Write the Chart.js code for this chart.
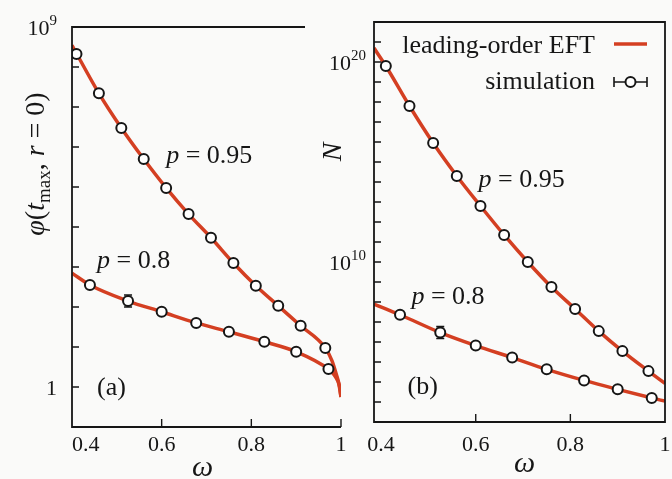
<!DOCTYPE html>
<html>
<head>
<meta charset="utf-8">
<script src="https://cdn.jsdelivr.net/npm/chart.js@4/dist/chart.umd.min.js"></script>
<style>
html, body { margin: 0; padding: 0; background: #fafaf9; }
#wrap { position: relative; width: 672px; height: 479px; }
canvas { position: absolute; left: 0; top: 0; }
.preload { position: absolute; left: -999px; top: 0; font-family: "Liberation Serif"; }
</style>
</head>
<body>
<span class="preload">leading-order <i>p</i></span>
<div id="wrap">
<canvas id="chartA" width="672" height="479"></canvas>
<canvas id="chartB" width="672" height="479"></canvas>
</div>
<script>

// ---- values ----

// simulation points (same omega for both panels)
const simOmega95 = [0.41, 0.46, 0.51, 0.56, 0.61, 0.66, 0.71, 0.76, 0.81, 0.86, 0.91, 0.965];
const simOmega08 = [0.44, 0.525, 0.6, 0.677, 0.75, 0.829, 0.9, 0.972];

// panel (a): phi(t_max, r=0)
const simPhi95 = [2.1e8, 2.2e7, 3.0e6, 5.0e5, 9.5e4, 2.1e4, 5.4e3, 1.26e3, 340, 107, 34, 9.5];
const simPhi08 = [355, 141, 76, 40, 24, 13.5, 7.6, 2.8];
const errPhi08 = [null, [100, 199], null, null, null, null, null, null];

const eftOmega95a = [0.4, 0.46, 0.51, 0.56, 0.61, 0.66, 0.71, 0.76, 0.81, 0.86, 0.91, 0.965, 0.98, 0.99, 0.995, 1.0];
const eftPhi95 = [3.5e8, 2.2e7, 3.0e6, 5.0e5, 9.5e4, 2.1e4, 5.4e3, 1.26e3, 340, 107, 34, 9.5, 4.5, 2.0, 1.25, 0.56];
const eftOmega08a = [0.4, 0.44, 0.525, 0.6, 0.677, 0.75, 0.829, 0.9, 0.972, 0.985, 0.993, 0.997, 1.0];
const eftPhi08 = [700, 355, 141, 76, 40, 24, 13.5, 7.6, 2.8, 2.0, 1.4, 1.0, 0.56];

// panel (b): N
const simN95 = [6.3e19, 6.3e17, 8.9e15, 2.0e14, 6.3e12, 2.24e11, 1.0e10, 5.6e8, 4.5e7, 3.5e6, 3.5e5, 3.5e4];
const simN08 = [2.3e7, 2.95e6, 6.6e5, 1.66e5, 4.3e4, 1.2e4, 4.3e3, 1.6e3];
const errN08 = [null, [1.5e6, 5.9e6], null, null, null, null, null, null];

const eftOmega95b = [0.385, 0.41, 0.46, 0.51, 0.56, 0.61, 0.66, 0.71, 0.76, 0.81, 0.86, 0.91, 0.965, 1.0];
const eftN95 = [5.0e20, 6.3e19, 6.3e17, 8.9e15, 2.0e14, 6.3e12, 2.24e11, 1.0e10, 5.6e8, 4.5e7, 3.5e6, 3.5e5, 3.5e4, 8.5e3];
const eftOmega08b = [0.385, 0.44, 0.525, 0.6, 0.677, 0.75, 0.829, 0.9, 0.972, 1.0];
const eftN08 = [7.9e7, 2.3e7, 2.95e6, 6.6e5, 1.66e5, 4.3e4, 1.2e4, 4.3e3, 1.6e3, 1.1e3];

// ticks and tick labels
const xTickVals = [0.4, 0.6, 0.8, 1.0];
const xTickLabels = ["0.4", "0.6", "0.8", "1"];
const yTicksA = [0.1, 1, 10, 100, 1e3, 1e4, 1e5, 1e6, 1e7, 1e8, 1e9];
const yLabelsA = [{ v: 1e9, base: "10", sup: "9" }, { v: 1, base: "1", sup: "" }];
const yTicksB = [1e2, 1e3, 1e4, 1e5, 1e6, 1e7, 1e8, 1e9, 1e10, 1e11, 1e12, 1e13, 1e14, 1e15, 1e16, 1e17, 1e18, 1e19, 1e20, 1e21, 1e22];
const yLabelsB = [{ v: 1e20, base: "10", sup: "20" }, { v: 1e10, base: "10", sup: "10" }];

const RED = "#d43f22";
const INK = "#161616";
const SERIF = "'Liberation Serif', 'DejaVu Serif', serif";

function font(size, italic) {
	return (italic ? "italic " : "") + size + "px " + SERIF;
}

function pts(xs, ys) {
	return xs.map((x, i) => ({ x: x, y: ys[i] }));
}

// draw a run of text pieces (for sub/superscripts and italics)
function drawRich(ctx, parts, x, y, align) {
	let w = 0;
	parts.forEach((p) => {
		ctx.font = p.font;
		p.w = ctx.measureText(p.text).width;
		w += p.w;
	});
	let cx = x;
	if (align == "center") cx = x - w / 2;
	else if (align == "right") cx = x - w;
	ctx.textAlign = "left";
	ctx.textBaseline = "alphabetic";
	parts.forEach((p) => {
		ctx.font = p.font;
		ctx.fillText(p.text, cx, y + (p.dy || 0));
		cx += p.w;
	});
}

function pLabel(val) {
	return [
		{ text: "p", font: font(26, true) },
		{ text: " = " + val, font: font(26) },
	];
}

function decor(cfg) {
	return {
		id: "decor",
		beforeDatasetsDraw(chart) {
			// error bars go under the circles
			const { ctx, scales: { x, y } } = chart;
			ctx.save();
			ctx.strokeStyle = INK;
			ctx.lineWidth = 1.6;
			cfg.err.forEach((e, i) => {
				if (!e) return;
				const px = x.getPixelForValue(simOmega08[i]);
				const y1 = y.getPixelForValue(e[0]);
				const y2 = y.getPixelForValue(e[1]);
				ctx.beginPath();
				ctx.moveTo(px, y1); ctx.lineTo(px, y2);
				ctx.moveTo(px - 4, y1); ctx.lineTo(px + 4, y1);
				ctx.moveTo(px - 4, y2); ctx.lineTo(px + 4, y2);
				ctx.stroke();
			});
			ctx.restore();
		},
		afterDraw(chart) {
			const { ctx, chartArea: a, scales: { x, y } } = chart;
			ctx.save();
			ctx.strokeStyle = INK;
			ctx.fillStyle = INK;

			// frame
			ctx.lineWidth = 1.8;
			ctx.beginPath();
			if (cfg.fullBox) {
				ctx.rect(a.left, a.top, a.right - a.left, a.bottom - a.top);
			} else {
				ctx.moveTo(a.right - cfg.topCut, a.top);
				ctx.lineTo(a.left, a.top);
				ctx.lineTo(a.left, a.bottom);
				ctx.lineTo(a.right, a.bottom);
			}
			ctx.stroke();

			// inward ticks
			ctx.lineWidth = 1.4;
			ctx.beginPath();
			cfg.yTicks.forEach((v) => {
				const py = y.getPixelForValue(v);
				ctx.moveTo(a.left, py);
				ctx.lineTo(a.left + 7, py);
			});
			cfg.xTicks.forEach((v) => {
				const px = x.getPixelForValue(v);
				ctx.moveTo(px, a.bottom);
				ctx.lineTo(px, a.bottom - 8);
			});
			ctx.stroke();

			// y tick labels
			cfg.yLabels.forEach((l) => {
				const py = y.getPixelForValue(l.v) + 8;
				const parts = [{ text: l.base, font: font(22) }];
				if (l.sup) parts.push({ text: l.sup, font: font(15), dy: -10 });
				drawRich(ctx, parts, a.left - cfg.yLabelGap, py, "right");
			});

			// x tick labels
			xTickVals.forEach((v, i) => {
				let px = x.getPixelForValue(v);
				let align = "center";
				if (i == 0 && cfg.firstLabelLeft) { px = a.left; align = "left"; }
				drawRich(ctx, [{ text: xTickLabels[i], font: font(22) }], px, 451, align);
			});

			// axis titles
			drawRich(ctx, [{ text: "\u03c9", font: font(30, true) }], (a.left + a.right) / 2 + cfg.omegaShift, cfg.omegaBase, "center");
			ctx.save();
			ctx.translate(cfg.yTitle.x, cfg.yTitle.y);
			ctx.rotate(-Math.PI / 2);
			drawRich(ctx, cfg.yTitle.parts, 0, 9, "center");
			ctx.restore();

			// curve annotations
			cfg.notes.forEach((n) => {
				drawRich(ctx, n.parts, x.getPixelForValue(n.x), y.getPixelForValue(n.y), "left");
			});

			// legend
			if (cfg.legend) {
				drawRich(ctx, [{ text: "leading-order EFT", font: font(26) }], a.right - 70, a.top + 31, "right");
				drawRich(ctx, [{ text: "simulation", font: font(26) }], a.right - 70, a.top + 67, "right");
				ctx.strokeStyle = RED;
				ctx.lineWidth = 3.5;
				ctx.beginPath();
				ctx.moveTo(a.right - 51, a.top + 22);
				ctx.lineTo(a.right - 18, a.top + 22);
				ctx.stroke();
				const ly = a.top + 60;
				ctx.strokeStyle = INK;
				ctx.lineWidth = 1.6;
				ctx.beginPath();
				ctx.moveTo(a.right - 51, ly); ctx.lineTo(a.right - 18, ly);
				ctx.moveTo(a.right - 51, ly - 5); ctx.lineTo(a.right - 51, ly + 5);
				ctx.moveTo(a.right - 18, ly - 5); ctx.lineTo(a.right - 18, ly + 5);
				ctx.stroke();
				ctx.fillStyle = "#ffffff";
				ctx.lineWidth = 2;
				ctx.beginPath();
				ctx.arc(a.right - 34.5, ly, 5, 0, 2 * Math.PI);
				ctx.fill();
				ctx.stroke();
			}
			ctx.restore();
		},
	};
}

function simDataset(data) {
	return {
		data: data,
		showLine: false,
		pointRadius: 5,
		pointBorderWidth: 2,
		pointBorderColor: INK,
		pointBackgroundColor: "#ffffff",
		order: 0,
	};
}

function eftDataset(data) {
	return {
		data: data,
		showLine: true,
		pointRadius: 0,
		borderColor: RED,
		borderWidth: 3.5,
		cubicInterpolationMode: "monotone",
		order: 1,
	};
}

function createPanel(id, cfg) {
	return new Chart(document.getElementById(id), {
		type: "scatter",
		data: {
			datasets: [
				simDataset(cfg.sim95),
				simDataset(cfg.sim08),
				eftDataset(cfg.eft95),
				eftDataset(cfg.eft08),
			],
		},
		options: {
			responsive: false,
			animation: false,
			layout: { padding: cfg.padding },
			plugins: {
				legend: { display: false },
				tooltip: { enabled: false },
			},
			scales: {
				x: { type: "linear", min: cfg.xMin, max: 1.0, display: false },
				y: { type: "logarithmic", min: cfg.yMin, max: cfg.yMax, display: false },
			},
		},
		plugins: [decor(cfg)],
	});
}

function build() {
	// PANEL (a)
	createPanel("chartA", {
		sim95: pts(simOmega95, simPhi95),
		sim08: pts(simOmega08, simPhi08),
		eft95: pts(eftOmega95a, eftPhi95),
		eft08: pts(eftOmega08a, eftPhi08),
		err: errPhi08,
		padding: { left: 72, top: 27, right: 331, bottom: 52 },
		xMin: 0.4, yMin: 0.1, yMax: 1e9,
		fullBox: false, topCut: 36,
		yTicks: yTicksA, yLabels: yLabelsA, yLabelGap: 15,
		xTicks: [0.6, 0.8, 1.0], firstLabelLeft: true,
		omegaShift: -4, omegaBase: 476,
		yTitle: {
			x: 35, y: 164,
			parts: [
				{ text: "\u03c6", font: font(28, true) },
				{ text: "(", font: font(28) },
				{ text: "t", font: font(28, true) },
				{ text: "max", font: font(19), dy: 6 },
				{ text: ", ", font: font(28) },
				{ text: "r", font: font(28, true) },
				{ text: " = 0)", font: font(28) },
			],
		},
		notes: [
			{ x: 0.61, y: 4.0e5, parts: pLabel("0.95") },
			{ x: 0.456, y: 944, parts: pLabel("0.8") },
			{ x: 0.456, y: 0.63, parts: [{ text: "(a)", font: font(26) }] },
		],
		legend: false,
	});

	// PANEL (b)
	createPanel("chartB", {
		sim95: pts(simOmega95, simN95),
		sim08: pts(simOmega08, simN08),
		eft95: pts(eftOmega95b, eftN95),
		eft08: pts(eftOmega08b, eftN08),
		err: errN08,
		padding: { left: 374, top: 22, right: 4, bottom: 57 },
		xMin: 0.385, yMin: 1e2, yMax: 1e22,
		fullBox: true,
		yTicks: yTicksB, yLabels: yLabelsB, yLabelGap: 8,
		xTicks: [0.6, 0.8], firstLabelLeft: false,
		omegaShift: 5, omegaBase: 472,
		yTitle: {
			x: 332, y: 152,
			parts: [{ text: "N", font: font(28, true) }],
		},
		notes: [
			{ x: 0.606, y: 5.4e13, parts: pLabel("0.95") },
			{ x: 0.464, y: 8.3e7, parts: pLabel("0.8") },
			{ x: 0.456, y: 2.5e3, parts: [{ text: "(b)", font: font(26) }] },
		],
		legend: true,
	});
}

Promise.all([
	document.fonts.load("26px 'Liberation Serif'"),
	document.fonts.load("italic 26px 'Liberation Serif'"),
]).then(build, build);
</script>
</body>
</html>
